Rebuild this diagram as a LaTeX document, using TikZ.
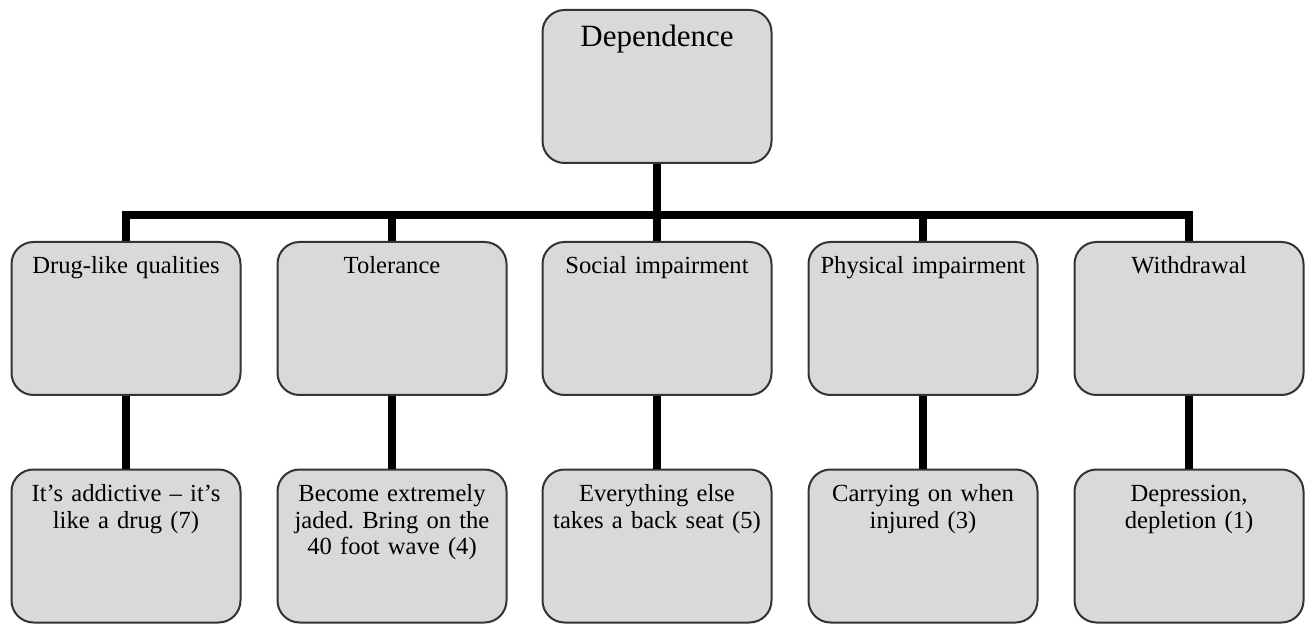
\documentclass[tikz,border=0pt]{standalone}
\usepackage{fontspec}
\setmainfont{Liberation Serif}
\usetikzlibrary{positioning,calc}
\frenchspacing

\tikzset{
    catbox/.style={draw=black!80, line width=1pt, fill=black!15, rounded corners=11pt,
        minimum width=114.5pt, minimum height=76.5pt, text width=108pt, align=center,
        inner sep=0pt, text height=16pt, text depth=60.5pt,
        font=\fontsize{12.3}{13.3}\selectfont},
    topbox/.style={catbox, text height=18.5pt, text depth=58pt,
        font=\fontsize{15.5}{17}\selectfont},
    link/.style={line width=4pt}
}

\begin{document}
\begin{tikzpicture}[x=0.5pt,y=-0.5pt]
    \useasboundingbox (0,0) rectangle (1309,624);
    % root and bus line
    \node[topbox] (dep) at (657,86.5) {Dependence};
    \coordinate (bus) at (657,215);

    % five categories, each with one quote below
    \foreach \x/\n/\head/\quot in {
        126/1/{Drug-like qualities}/{It's addictive -- it's\\like a drug (7)},
        392/2/{Tolerance}/{Become extremely\\jaded. Bring on the\\40 foot wave (4)},
        657/3/{Social impairment}/{Everything else\\takes a back seat (5)},
        923/4/{Physical impairment}/{Carrying on when\\injured (3)},
        1189/5/{Withdrawal}/{Depression,\\depletion (1)}} {
        \node[catbox] (cat\n) at (\x,318.5) {\head};
        \node[catbox] (quote\n) at (\x,546) {\quot};
        \draw[link] (cat\n.south) -- (quote\n.north);
    }

    \draw[link] (dep.south) -- (dep.south |- bus);
    \draw[link] (cat1.north) -- (cat1.north |- bus) -- (cat5.north |- bus) -- (cat5.north);
    \foreach \n in {2,3,4}
        \draw[link] (cat\n.north) -- (cat\n.north |- bus);
\end{tikzpicture}
\end{document}
